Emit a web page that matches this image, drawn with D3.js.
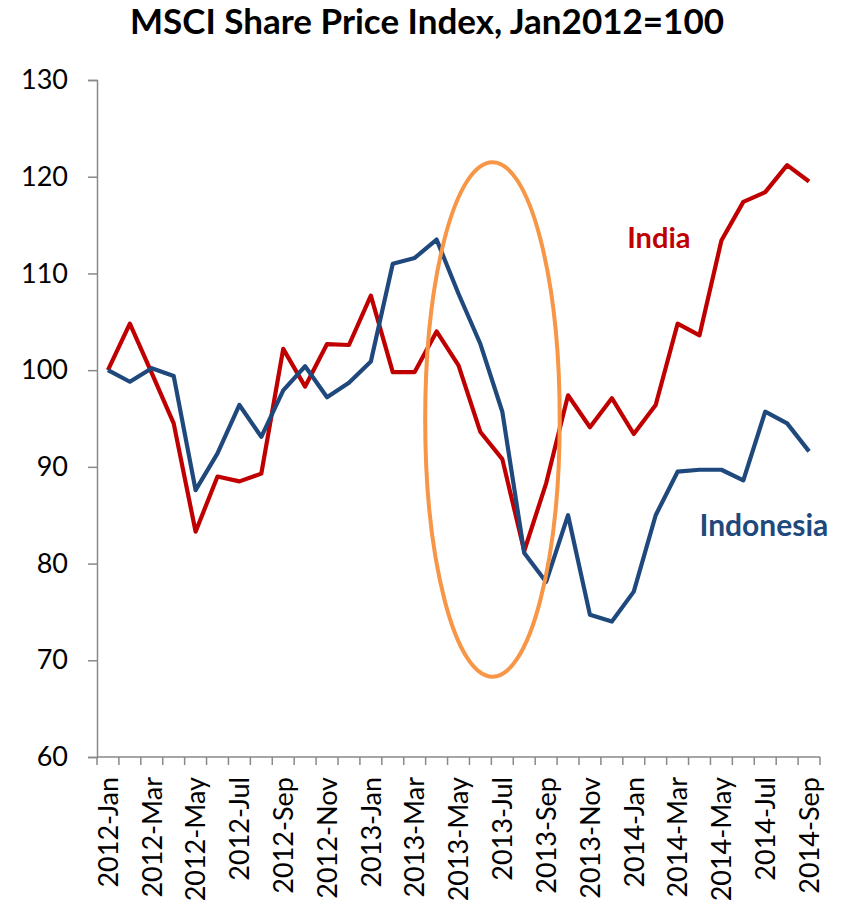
<!DOCTYPE html>
<meta charset="utf-8">
<style>
  body { margin: 0; background: #fff; }
  text { font-family: Lato, "Open Sans", sans-serif; }
</style>
<svg id="mainsvg" width="842" height="909"></svg>
<script src="https://d3js.org/d3.v7.min.js"></script>
<script>

// months Jan2012 .. Sep2014
const months = ["Jan","Feb","Mar","Apr","May","Jun","Jul","Aug","Sep","Oct","Nov","Dec"];
const categories = [];
for (let i = 0; i < 33; i++) {
  categories.push((2012 + Math.floor(i / 12)) + "-" + months[i % 12]);
}

const india = [100, 104.8, 99.7, 94.5, 83.3, 89.0, 88.5, 89.3, 102.2, 98.3, 102.7, 102.6,
  107.7, 99.8, 99.8, 104.0, 100.5, 93.6, 90.8, 81.3, 88.3, 97.4, 94.1, 97.1,
  93.4, 96.4, 104.8, 103.6, 113.4, 117.4, 118.4, 121.2, 119.5];

const indonesia = [100, 98.8, 100.2, 99.4, 87.6, 91.4, 96.4, 93.1, 97.9, 100.4, 97.2, 98.7,
  100.9, 111.0, 111.6, 113.5, 107.9, 102.7, 95.7, 81.1, 78.1, 85.0, 74.7, 74.0,
  77.1, 85.0, 89.5, 89.7, 89.7, 88.6, 95.7, 94.5, 91.6];

const yTicks = [60, 70, 80, 90, 100, 110, 120, 130];

const margin = {left: 97, right: 22, top: 80, bottom: 152};
const W = 842, H = 909;

const svg = d3.select("#mainsvg");

const x = d3.scaleBand()
  .domain(categories)
  .range([margin.left, W - margin.right]);

// continuous helper for annotations (in category units)
const xPos = d3.scaleLinear().domain([0, categories.length]).range(x.range());

const y = d3.scaleLinear()
  .domain([60, 130])
  .range([H - margin.bottom, margin.top]);

// title
svg.append("text")
  .attr("x", 427)
  .attr("y", 34)
  .attr("text-anchor", "middle")
  .style("font-size", "35px")
  .style("font-weight", "bold")
  .text("MSCI Share Price Index, Jan2012=100");

// y axis
const yAxis = svg.append("g")
  .attr("transform", `translate(${margin.left},0)`)
  .call(d3.axisLeft(y).tickValues(yTicks).tickSize(9).tickPadding(20));
yAxis.select(".domain").attr("stroke", "#898989").attr("stroke-width", 1.5);
yAxis.selectAll(".tick line").attr("stroke", "#898989").attr("stroke-width", 1.5);
yAxis.selectAll(".tick text")
  .attr("fill", "#000")
  .style("font-size", "27px")
  .style("font-family", "Lato, sans-serif");

// x axis: ticks on category boundaries, labels every other month
const xAxisG = svg.append("g")
  .attr("transform", `translate(0,${y(60)})`);
xAxisG.append("line")
  .attr("x1", x.range()[0]).attr("x2", x.range()[1])
  .attr("stroke", "#898989").attr("stroke-width", 1.5);
xAxisG.selectAll("line.tk")
  .data(d3.range(categories.length + 1))
  .join("line")
  .attr("class", "tk")
  .attr("x1", d => xPos(d)).attr("x2", d => xPos(d))
  .attr("y1", 0).attr("y2", 8)
  .attr("stroke", "#898989").attr("stroke-width", 1.5);
xAxisG.selectAll("text")
  .data(categories.filter((d, i) => i % 2 === 0))
  .join("text")
  .attr("transform", d => `translate(${x(d) + x.bandwidth() / 2},20) rotate(-90)`)
  .attr("text-anchor", "end")
  .attr("dy", "0.36em")
  .style("font-size", "27px")
  .text(d => d);

const line = d3.line()
  .x((d, i) => x(categories[i]) + x.bandwidth() / 2)
  .y(d => y(d));

svg.append("path")
  .datum(india)
  .attr("fill", "none")
  .attr("stroke", "#C00000")
  .attr("stroke-width", 4.2)
  .attr("stroke-linejoin", "round")
  .attr("d", line);

svg.append("path")
  .datum(indonesia)
  .attr("fill", "none")
  .attr("stroke", "#1F497D")
  .attr("stroke-width", 4.2)
  .attr("stroke-linejoin", "round")
  .attr("d", line);

// highlight ellipse around mid-2013
const cx = xPos(18.05), cy = y(94.9);
svg.append("ellipse")
  .attr("cx", cx)
  .attr("cy", cy)
  .attr("rx", xPos(3.07) - xPos(0))
  .attr("ry", y(68.3) - cy)
  .attr("fill", "none")
  .attr("stroke", "#F79646")
  .attr("stroke-width", 4);

// series labels
svg.append("text")
  .attr("x", xPos(24.2))
  .attr("y", y(112.6))
  .attr("fill", "#C00000")
  .style("font-size", "29px")
  .style("font-weight", "bold")
  .text("India");

svg.append("text")
  .attr("x", xPos(27.5))
  .attr("y", y(82.9))
  .attr("fill", "#1F497D")
  .style("font-size", "30px")
  .style("font-weight", "bold")
  .text("Indonesia");

</script>
